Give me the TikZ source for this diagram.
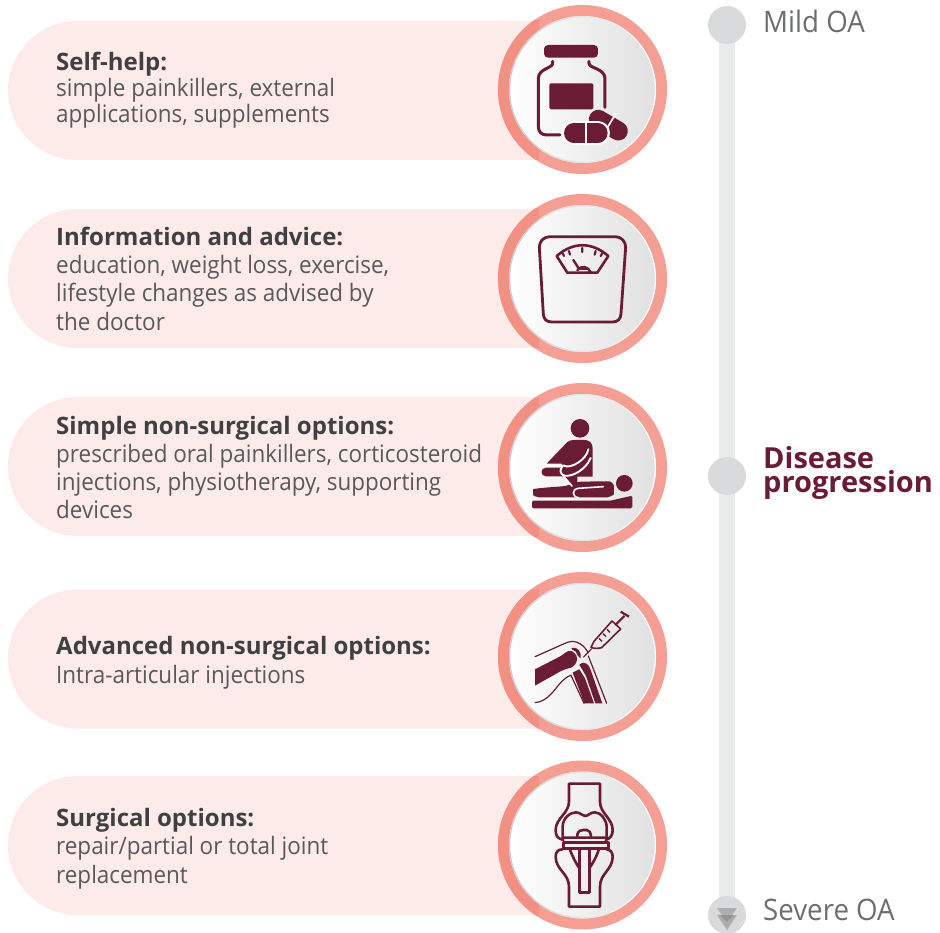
\documentclass[tikz,border=0pt]{standalone}
\usepackage{fontspec}
\setmainfont[FakeStretch=0.935,BoldFeatures={FakeStretch=1.0}]{Open Sans}
\usetikzlibrary{calc}
\definecolor{pill}{HTML}{FDEBE9}
\definecolor{ringc}{HTML}{F59E93}
\definecolor{ringd}{HTML}{F29084}
\definecolor{icon}{HTML}{691C33}
\definecolor{txt}{HTML}{3F4041}
\definecolor{soft}{HTML}{6D6E70}
\definecolor{bar}{HTML}{E9EAEA}
\definecolor{dot}{HTML}{D9DADB}
\tikzset{
  head/.style={anchor=base west,inner sep=0pt,font=\fontsize{24}{24}\selectfont\bfseries,text=txt},
  bodyline/.style={anchor=base west,inner sep=0pt,font=\fontsize{24}{24}\selectfont,text=soft!55!txt},
  side/.style={anchor=base west,inner sep=0pt,font=\fontsize{29.6}{30}\selectfont,text=soft},
  prog/.style={anchor=base west,inner sep=0pt,align=left,font=\fontsize{29}{24}\selectfont\bfseries,text=icon},
  ico/.style={draw=icon,line width=3pt,line join=round,line cap=round},
}
\newcommand{\badge}[2]{%
  \fill[pill,rounded corners=69.5pt] (8,#1-69.5) rectangle (620,#1+69.5);
  \fill[ringc] (582.5,#2) circle[radius=84.5];
  \begin{scope}
    \clip (0,#1-69.5) rectangle (539,#1+69.5);
    \fill[ringd] (582.5,#2) circle[radius=84.5];
  \end{scope}
  \shade[left color=white,right color=white!88!black,draw=none] (582.5,#2) circle[radius=73.5];
  \draw[left color=white!80!black,right color=white,draw=none,even odd rule] (582.5,#2) circle[radius=73.5] (582.5,#2) circle[radius=72.3];
}
\begin{document}
\begin{tikzpicture}[x=1pt,y=-1pt]
\useasboundingbox (0,0) rectangle (940,933);
\fill[white] (0,0) rectangle (940,933);
% progress line
\fill[bar] (719,25) rectangle (735,915);
\fill[dot] (727,25) circle[radius=19];
\fill[dot] (727,476) circle[radius=19];
\fill[dot] (727,915) circle[radius=19];
\fill[black!32] (717,908) -- (737,908) -- (727,922) -- cycle;
\fill[black!32] (717,915) -- (737,915) -- (727,930) -- cycle;
\fill[black!42] (720.2,915) -- (733.8,915) -- (727,922) -- cycle;
% badges
\badge{90.5}{89.5}
\badge{278.5}{278.5}
\badge{466.5}{467.5}
\badge{659}{656.5}
\badge{845.5}{845}
% icon 1
\begin{scope}[shift={(490,0)},x=.3333pt,y=-.3333pt]
  \fill[icon,rounded corners=4pt] (162,135) rectangle (324,173);
  \draw[ico] (188,184) -- (188,190) .. controls (188,205) and (146,205) .. (145,235) -- (145,380) .. controls (145,395) and (155,405) .. (170,405) -- (210,405);
  \draw[ico] (297,184) -- (297,190) .. controls (297,205) and (344,205) .. (345,235) -- (345,322);
  \fill[icon,rounded corners=1.5pt] (178,250) rectangle (310,328);
  \draw[icon,line width=19pt,line cap=round] (325,358) -- (385,393);
  \draw[white,line width=1.7pt] (345,395) -- (378,340);
  \draw[white,line width=24pt,line cap=round] (251,399) -- (324,399);
  \draw[icon,line width=19.3pt,line cap=round] (251,399) -- (324,399);
  \draw[white,line width=1.7pt] (288,365) -- (288,432);
\end{scope}
% icon 2
\begin{scope}[shift={(490,190)},x=.3333pt,y=-.3333pt]
  \draw[ico,line width=2.8pt] (180,140) -- (375,140) .. controls (395,140) and (407,155) .. (407,172) -- (393,372) .. controls (392,388) and (382,396) .. (368,396) -- (185,396) .. controls (170,396) and (161,388) .. (160,372) -- (148,172) .. controls (148,155) and (160,140) .. (180,140) -- cycle;
  \draw[ico,line width=2.6pt] (200,198) .. controls (250,155) and (305,155) .. (355,198) -- (322,248) -- (232,248) -- cycle;
  \draw[ico,line width=2.2pt] (237,183) -- (240,194) (277,174) -- (277,186) (317,183) -- (314,194) (218,190) -- (222,198) (337,190) -- (332,198);
  \draw[ico,line width=2.4pt] (250,210) -- (264,232);
  \draw[ico,line width=2.4pt] (262,240) .. controls (275,226) and (292,228) .. (302,246);
  \draw[ico,line width=1.8pt] (272,238) -- (295,238);
\end{scope}
% icon 3
\begin{scope}[shift={(490,380)},x=.3333pt,y=-.3333pt]
  \fill[icon] (270,145) circle[radius=28];
  \fill[icon] (170,251) -- (232,186) .. controls (238,181) and (245,180) .. (255,180) -- (285,180) .. controls (300,180) and (308,192) .. (308,205) -- (308,290) -- (262,290) -- (262,312) -- (240,312) -- (222,289) -- (168,289) .. controls (150,289) and (150,263) .. (168,263) -- (215,263) -- (215,251) -- cycle;
  \draw[white,line width=1.9pt,line cap=round] (172,257) -- (222,257) .. controls (240,268) and (290,240) .. (295,208);
  \draw[white,line width=1.9pt,line cap=round] (222,287) .. controls (250,292) and (290,265) .. (302,234);
  \draw[white,line width=1.9pt,line cap=round] (218,258) .. controls (208,268) and (210,282) .. (222,287);
  \fill[icon] (403,310) circle[radius=25];
  \fill[icon,rounded corners=4pt] (126,340) .. controls (130,325) and (180,322) .. (230,318) -- (262,305) -- (345,304) .. controls (365,304) and (372,315) .. (372,330) .. controls (372,345) and (355,352) .. (340,352) -- (135,352) -- cycle;
  \draw[white,line width=1.6pt,line cap=round] (340,320) -- (265,325) .. controls (245,328) and (245,350) .. (265,353);
  \draw[white,line width=1.6pt,line cap=round] (222,290) -- (246,318);
  \fill[icon,rounded corners=1.5pt] (126,362) -- (362,362) -- (427,347) -- (427,385) -- (126,385) -- cycle;
\end{scope}
% icon 4
\begin{scope}[shift={(490,570)},x=.3333pt,y=-.3333pt]
  \fill[icon] (135,298) -- (205,262) .. controls (222,255) and (228,240) .. (245,243) .. controls (258,250) and (264,262) .. (260,274) .. controls (256,287) and (245,294) .. (232,296) -- (215,302) -- (135,347) -- cycle;
  \fill[icon] (245,234) .. controls (262,228) and (275,245) .. (272,265) -- (264,258) .. controls (262,248) and (255,240) .. (245,238) -- cycle;
  \fill[icon] (248,308) -- (268,298) -- (285,325) -- (312,400) -- (283,400) -- cycle;
  \fill[icon] (268,284) .. controls (285,270) and (298,285) .. (302,300) -- (337,400) -- (316,400) -- (288,318) -- cycle;
  \draw[icon,line width=1.2pt,line cap=round] (135,260) -- (225,220) .. controls (250,208) and (275,215) .. (295,248);
  \draw[icon,line width=1.2pt,line cap=round] (295,258) -- (350,400);
  \draw[icon,line width=1.2pt,line cap=round] (135,398) .. controls (175,395) and (195,355) .. (215,335) .. controls (225,325) and (235,318) .. (243,316) -- (282,400);
  \draw[icon,line width=1.2pt] (280,262) -- (305,236);
  \draw[icon,line width=1.6pt,line join=round] (303,232) -- (312,214) -- (366,153) -- (392,177) -- (335,233) .. controls (325,236) and (312,236) .. (303,232) -- cycle;
  \draw[icon,line width=1.3pt] (327,205) -- (336,214) (339,191) -- (348,200) (351,178) -- (360,187);
  \draw[icon,line width=2.2pt] (376,165) -- (403,138);
  \draw[icon,line width=2.2pt,line join=round] (392,125) -- (417,140);
\end{scope}
% icon 5
\begin{scope}[shift={(490,755)},x=.3333pt,y=-.3333pt]
  \tikzset{ic5/.style={draw=icon,line width=2.6pt,line join=round,line cap=round}}
  \draw[ic5] (220,255) .. controls (200,250) and (197,240) .. (197,225) .. controls (197,190) and (237,175) .. (237,140) -- (237,86) -- (330,86) -- (330,140) .. controls (330,175) and (368,190) .. (368,225) .. controls (368,240) and (362,250) .. (347,255);
  \draw[ic5] (218,248) -- (218,215) .. controls (218,190) and (240,172) .. (258,172) .. controls (272,172) and (275,183) .. (285,183) .. controls (295,183) and (300,172) .. (315,172) .. controls (332,172) and (350,195) .. (350,215) -- (350,248) -- cycle;
  \draw[ic5] (262,248) -- (262,238) .. controls (265,228) and (272,225) .. (280,225) -- (290,225) .. controls (298,225) and (303,232) .. (303,248);
  \draw[ic5] (220,262) rectangle (355,280);
  \draw[ic5] (218,283) .. controls (203,283) and (197,292) .. (197,305) .. controls (197,345) and (237,355) .. (237,395) -- (237,455) -- (330,455) -- (330,395) .. controls (330,355) and (368,345) .. (368,305) .. controls (368,292) and (362,285) .. (350,283);
  \draw[ic5] (268,285) -- (268,413) -- (298,413) -- (298,285);
  \draw[ic5] (240,285) .. controls (248,305) and (258,325) .. (268,340);
  \draw[ic5] (326,285) .. controls (320,305) and (308,325) .. (298,340);
\end{scope}
% texts
\node[head] (h1) at (56,71) {Self-help:};
\node[bodyline] (b1a) at (56,97) {simple painkillers, external};
\node[bodyline] (b1b) at (56,123) {applications, supplements};
\node[head] (h2) at (56,245.5) {Information and advice:};
\node[bodyline] (b2a) at (56,274) {education, weight loss, exercise,};
\node[bodyline] (b2b) at (56,302) {lifestyle changes as advised by};
\node[bodyline] (b2c) at (56,330.5) {the doctor};
\node[head] (h3) at (56,434) {Simple non-surgical options:};
\node[bodyline] (b3a) at (56,462) {prescribed oral painkillers, corticosteroid};
\node[bodyline] (b3b) at (56,490) {injections, physiotherapy, supporting};
\node[bodyline] (b3c) at (56,518) {devices};
\node[head] (h4) at (56,654) {Advanced non-surgical options:};
\node[bodyline] (b4a) at (56,683) {Intra-articular injections};
\node[head] (h5) at (56,826) {Surgical options:};
\node[bodyline] (b5a) at (56,854) {repair/partial or total joint};
\node[bodyline] (b5b) at (56,883) {replacement};
\node[side] (mild) at (763,33) {Mild OA};
\node[side] (severe) at (763,920) {Severe OA};
\node[prog,anchor=north west] (p) at (763,446) {Disease\\progression};
\end{tikzpicture}
\end{document}
